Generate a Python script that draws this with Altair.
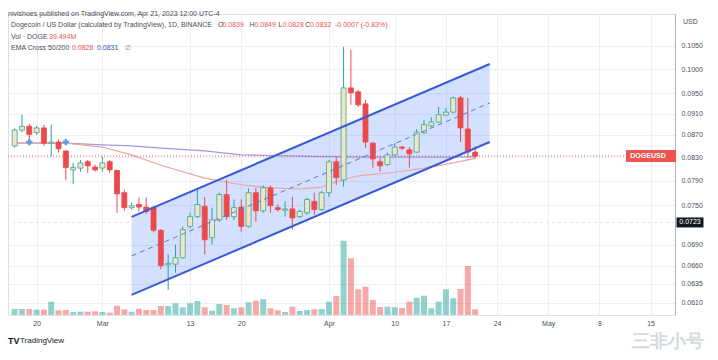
import altair as alt
import pandas as pd

# ---------------- data ----------------
dates = pd.date_range("2023-02-17", "2023-04-21", freq="D").strftime("%Y-%m-%d").tolist()

opens = [0.0850, 0.0879, 0.0886, 0.0874, 0.0883, 0.0855, 0.0857, 0.0841, 0.0808, 0.0811,
         0.0822, 0.0813, 0.0811, 0.0822, 0.0807, 0.0770, 0.0746, 0.0751, 0.0747, 0.0746,
         0.0711, 0.0661, 0.0662, 0.0671, 0.0717, 0.0732, 0.0748, 0.0700, 0.0727, 0.0767,
         0.0732, 0.0747, 0.0717, 0.0770, 0.0741, 0.0778, 0.0746, 0.0742, 0.0744, 0.0732,
         0.0738, 0.0756, 0.0743, 0.0770, 0.0822, 0.0791, 0.0961, 0.0953, 0.0929, 0.0855,
         0.0822, 0.0817, 0.0834, 0.0848, 0.0843, 0.0839, 0.0874, 0.0887, 0.0894, 0.0907,
         0.0913, 0.0941, 0.0881, 0.0839]
highs = [0.0882, 0.0908, 0.0891, 0.0887, 0.0889, 0.0889, 0.0861, 0.0843, 0.0820, 0.0825,
         0.0825, 0.0817, 0.0831, 0.0825, 0.0808, 0.0775, 0.0754, 0.0762, 0.0762, 0.0749,
         0.0713, 0.0676, 0.0690, 0.0717, 0.0738, 0.0775, 0.0763, 0.0746, 0.0770, 0.0791,
         0.0759, 0.0759, 0.0777, 0.0778, 0.0782, 0.0782, 0.0751, 0.0756, 0.0763, 0.0743,
         0.0762, 0.0770, 0.0773, 0.0825, 0.0831, 0.1048, 0.1041, 0.0957, 0.0937, 0.0857,
         0.0829, 0.0838, 0.0855, 0.0850, 0.0848, 0.0881, 0.0898, 0.0903, 0.0923, 0.0921,
         0.0943, 0.0945, 0.0941, 0.0849]
lows = [0.0847, 0.0875, 0.0855, 0.0870, 0.0850, 0.0831, 0.0838, 0.0791, 0.0784, 0.0805,
        0.0803, 0.0805, 0.0805, 0.0803, 0.0738, 0.0741, 0.0743, 0.0740, 0.0736, 0.0708,
        0.0655, 0.0627, 0.0650, 0.0670, 0.0714, 0.0730, 0.0676, 0.0690, 0.0724, 0.0727,
        0.0727, 0.0709, 0.0715, 0.0724, 0.0738, 0.0738, 0.0740, 0.0732, 0.0712, 0.0730,
        0.0735, 0.0735, 0.0741, 0.0763, 0.0783, 0.0780, 0.0927, 0.0923, 0.0847, 0.0812,
        0.0805, 0.0815, 0.0832, 0.0843, 0.0812, 0.0838, 0.0872, 0.0885, 0.0893, 0.0906,
        0.0911, 0.0857, 0.0831, 0.0828]
closes = [0.0879, 0.0886, 0.0871, 0.0883, 0.0855, 0.0857, 0.0845, 0.0812, 0.0812, 0.0820,
          0.0815, 0.0808, 0.0820, 0.0808, 0.0768, 0.0746, 0.0749, 0.0747, 0.0740, 0.0711,
          0.0660, 0.0663, 0.0671, 0.0712, 0.0732, 0.0751, 0.0697, 0.0727, 0.0767, 0.0732,
          0.0746, 0.0717, 0.0770, 0.0741, 0.0778, 0.0749, 0.0743, 0.0744, 0.0730, 0.0740,
          0.0759, 0.0743, 0.0770, 0.0822, 0.0795, 0.0961, 0.0951, 0.0927, 0.0857, 0.0827,
          0.0815, 0.0834, 0.0848, 0.0846, 0.0836, 0.0875, 0.0889, 0.0894, 0.0908, 0.0913,
          0.0941, 0.0883, 0.0839, 0.0832]
volumes_m = [41.6, 41.6, 41.6, 36.7, 36.7, 92.2, 32.6, 34.7, 20.8, 22.9,
             22.9, 25.6, 20.8, 15.9, 64.4, 39.5, 22.9, 43.7, 34.7, 34.7,
             62.4, 62.4, 81.1, 53.4, 81.1, 97.0, 53.4, 29.8, 76.2, 69.3,
             46.4, 53.4, 88.0, 99.1, 108.8, 46.4, 32.6, 20.8, 57.5, 27.7,
             34.7, 39.5, 41.6, 92.2, 131.7, 514.9, 392.9, 178.1, 196.1, 104.0,
             55.4, 57.5, 53.4, 48.5, 92.2, 119.9, 133.7, 46.4, 92.2, 178.1,
             115.7, 180.2, 339.6, 39.494]

ema_dates = ["2023-02-17", "2023-02-24", "2023-03-01", "2023-03-05", "2023-03-09", "2023-03-15",
             "2023-03-20", "2023-03-24", "2023-03-28", "2023-03-31", "2023-04-02", "2023-04-05",
             "2023-04-10", "2023-04-14", "2023-04-18", "2023-04-21"]
ema50 = [0.0855, 0.0855, 0.0848, 0.0834, 0.0816, 0.0794, 0.0783, 0.0778, 0.0776, 0.0779,
         0.0788, 0.0798, 0.0804, 0.0811, 0.0820, 0.0828]
ema200 = [0.0855, 0.0855, 0.0852, 0.0850, 0.0846, 0.0841, 0.0834, 0.0833, 0.0832, 0.0831,
          0.0831, 0.0830, 0.0830, 0.0830, 0.0830, 0.0831]

cross_dates = ["2023-02-19", "2023-02-24"]
cross_prices = [0.0857, 0.0857]

channel_dates = ["2023-03-05", "2023-04-23"]
channel_upper = [0.07315, 0.10108]
channel_mid = [0.06736, 0.09308]
channel_lower = [0.06203, 0.08571]

price_ticks = [0.0610, 0.0635, 0.0660, 0.0690, 0.0750, 0.0790, 0.0830, 0.0870, 0.0910, 0.0950, 0.1000, 0.1050]
time_ticks = ["2023-02-20", "2023-03-01", "2023-03-13", "2023-03-20", "2023-04-01", "2023-04-10",
              "2023-04-17", "2023-04-24", "2023-05-01", "2023-05-08", "2023-05-15"]

last_close = 0.0832
cursor_price = 0.0723

# ---------------- tables ----------------
df = pd.DataFrame({"date": dates, "open": opens, "high": highs, "low": lows,
                   "close": closes, "volume": volumes_m})
ema_df = pd.DataFrame({"date": ema_dates, "ema50": ema50, "ema200": ema200})
cross_df = pd.DataFrame({"date": cross_dates, "p": cross_prices})
chan_df = pd.DataFrame({"date": channel_dates, "upper": channel_upper,
                        "mid": channel_mid, "lower": channel_lower})


def to_dt(s):
    t = pd.Timestamp(s)
    return alt.DateTime(year=t.year, month=t.month, date=t.day, utc=True)


base = pd.Timestamp("2023-02-17", tz="UTC")
x_domain = [int((base + pd.Timedelta(days=-0.229)).value // 10**6),
            int((base + pd.Timedelta(days=89.66)).value // 10**6)]

FONT = "Liberation Sans"
GREY = "#4a4e59"
RED = "#ef5350"
UP_WICK = "#26a69a"
UP_BODY = "#f2e4c9"
DOWN = "#ec4a4a"
CHAN = "#3a5bd6"
GRID = "#eceff5"

is_up = "datum.close >= datum.open"


def xs():
    return alt.Scale(type="utc", domain=x_domain)


def ys():
    return alt.Scale(type="log", domain=[0.05945, 0.11235], nice=False)


def X():
    return alt.X("date:T", scale=xs())


def Y(field, axis=None):
    return alt.Y(field, scale=ys(), axis=axis)


x_axis = alt.Axis(values=[to_dt(t) for t in time_ticks],
                  labelExpr="utcdate(datum.value) == 1 ? utcFormat(datum.value, '%b') : '' + utcdate(datum.value)",
                  title=None, ticks=False, labelPadding=4, labelFlush=False, labelOverlap=False,
                  domainColor="#e0e3eb", grid=True, gridColor=GRID,
                  labelFontSize=7, labelColor=GREY, labelFont=FONT)
y_axis = alt.Axis(orient="right", values=price_ticks, format=".4f", title=None, ticks=False,
                  labelPadding=6, labelOverlap=False, labelFlush=False, grid=True,
                  gridColor=GRID, domainColor="#a9b0c4",
                  labelFontSize=7, labelColor=GREY, labelFont=FONT)

# axis carrier layer (invisible marks)
axes_layer = alt.Chart(df).mark_point(opacity=0, size=1).encode(
    x=alt.X("date:T", scale=xs(), axis=x_axis), y=Y("close:Q", y_axis))

# volume
vol = alt.Chart(df).mark_bar(size=6, opacity=0.5).encode(
    x=X(),
    y=alt.Y("volume:Q", scale=alt.Scale(domain=[0, 2086]), axis=None),
    color=alt.condition(is_up, alt.value(UP_WICK), alt.value(RED)),
)

chan_fill = alt.Chart(chan_df).mark_area(color="#2962ff", opacity=0.2).encode(
    x=X(), y=Y("upper:Q"), y2="lower:Q")

ema50_line = alt.Chart(ema_df).mark_line(color="#f4a3a3", strokeWidth=1.2).encode(
    x=X(), y=Y("ema50:Q"))
ema200_line = alt.Chart(ema_df).mark_line(color="#9c9ce4", strokeWidth=1.2).encode(
    x=X(), y=Y("ema200:Q"))

one = pd.DataFrame({"p": [last_close]})
cur = pd.DataFrame({"p": [cursor_price]})
dummy = pd.DataFrame({"a": [0]})

price_line = alt.Chart(one).mark_rule(color=RED, strokeDash=[1, 2], strokeWidth=1).encode(
    y=Y("p:Q"))
cursor_line = alt.Chart(cur).mark_rule(color="#e3e6ee", strokeDash=[3, 3], strokeWidth=1).encode(
    y=Y("p:Q"))

wicks = alt.Chart(df).mark_rule(strokeWidth=1).encode(
    x=X(), y=Y("low:Q"), y2="high:Q",
    color=alt.condition(is_up, alt.value(UP_WICK), alt.value(DOWN)),
)
bodies = alt.Chart(df).mark_bar(size=5, strokeWidth=0.8).encode(
    x=X(), y=Y("open:Q"), y2="close:Q",
    fill=alt.condition(is_up, alt.value(UP_BODY), alt.value(DOWN)),
    stroke=alt.condition(is_up, alt.value("#3aa88c"), alt.value(DOWN)),
)

upper_line = alt.Chart(chan_df).mark_line(color=CHAN, strokeWidth=2).encode(x=X(), y=Y("upper:Q"))
lower_line = alt.Chart(chan_df).mark_line(color=CHAN, strokeWidth=2).encode(x=X(), y=Y("lower:Q"))
mid_line = alt.Chart(chan_df).mark_line(color="#5a78e0", strokeWidth=1, strokeDash=[5, 4]).encode(
    x=X(), y=Y("mid:Q"))

crosses = alt.Chart(cross_df).mark_point(shape="cross", filled=True, size=40, color="#5d9cec",
                                         opacity=1).encode(x=X(), y=Y("p:Q"))

box_path = "M-1,-0.24L1,-0.24L1,0.24L-1,0.24Z"
doge_box = alt.Chart(one).mark_point(shape=box_path, size=2500, filled=True, color=RED,
                                     opacity=1).encode(x=alt.value(643), y=Y("p:Q"))
doge_txt = alt.Chart(one).mark_text(text="DOGEUSD", color="white", fontSize=7, fontWeight="bold",
                                    font=FONT, align="center", baseline="middle").encode(
    x=alt.value(640), y=Y("p:Q"))
cur_box = alt.Chart(cur).mark_point(shape="M-1,-0.37L1,-0.37L1,0.37L-1,0.37Z", size=729,
                                    filled=True, color="#131722", opacity=1).encode(
    x=alt.value(682), y=Y("p:Q"))
cur_txt = alt.Chart(cur).mark_text(text="0.0723", color="white", fontSize=7, font=FONT,
                                   align="center", baseline="middle").encode(
    x=alt.value(682), y=Y("p:Q"))


def txt(t, x, y, color=GREY, size=7, weight="normal", align="left"):
    return alt.Chart(dummy).mark_text(text=t, color=color, fontSize=size, fontWeight=weight,
                                      font=FONT, align=align, baseline="middle").encode(
        x=alt.value(x), y=alt.value(y))


texts = [
    txt("nivishoes published on TradingView.com, Apr 21, 2023 12:00 UTC-4", 0, 0),
    txt("Dogecoin / US Dollar (calculated by TradingView), 1D, BINANCE", 3, 11),
    txt("O", 210, 11), txt("0.0839", 214.5, 11, RED),
    txt("H", 241.5, 11), txt("0.0849", 246.5, 11, RED),
    txt("L", 270.5, 11), txt("0.0828", 274.5, 11, RED),
    txt("C", 297, 11), txt("0.0832", 302, 11, RED),
    txt("-0.0007 (-0.83%)", 327, 11, RED),
    txt("Vol · DOGE", 3, 22.5), txt("39.494M", 41, 22.5, RED),
    txt("EMA Cross 50/200", 3, 34), txt("0.0828", 64, 34, RED), txt("0.0831", 89, 34, "#3b4fc4"),
    txt("∅", 117, 34, "#8a8e99"),
    txt("USD", 675, 8),
    txt("TV", 0, 327, "#131722", 9, "bold"),
    txt("TradingView", 12, 327, "#131722", 8),
    txt("三非小号", 660, 328, "#d5d9e0", 18, "bold", "center"),
]

chart = alt.layer(
    axes_layer, vol, chan_fill, ema200_line, ema50_line, cursor_line, price_line, wicks, bodies,
    upper_line, lower_line, mid_line, crosses, doge_box, doge_txt, cur_box, cur_txt, *texts,
).resolve_scale(y="independent").properties(
    width=667, height=301,
    autosize=alt.AutoSizeParams(type="none"),
    padding={"left": 0, "top": 6, "right": 35, "bottom": 36},
).configure_view(stroke=None).configure(background="white", font=FONT)

chart.save("out.html", embed_options={"renderer": "svg", "actions": False})
